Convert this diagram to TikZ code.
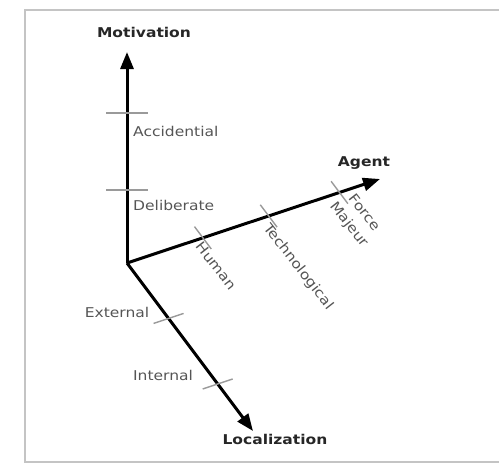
\documentclass[tikz,border=0pt]{standalone}
\usepackage{fontspec}
\setmainfont[FakeStretch=1.15]{DejaVu Sans}
\usetikzlibrary{arrows.meta,calc}

\definecolor{labelgray}{HTML}{555555}
\definecolor{tickgray}{HTML}{9A9A9A}
\definecolor{framegray}{HTML}{C4C4C4}

\tikzset{
  axis/.style={line width=3pt, -{Triangle[length=17pt,width=13pt]}},
  tickmark/.style={draw=tickgray, line width=1.4pt},
  axistitle/.style={font=\fontsize{13.5}{16}\selectfont\bfseries, text=black!85, inner sep=0pt},
  valuelabel/.style={font=\fontsize{13.5}{19}\selectfont, text=labelgray, inner sep=0pt},
  frameline/.style={draw=framegray, line width=2pt},
}

\begin{document}
\begin{tikzpicture}[x=1pt,y=-1pt]
  \useasboundingbox (0,0) rectangle (499,464);

  % frame around the figure
  \draw[frameline] (499,9.5) -- (24.5,9.5) -- (24.5,461.5) -- (499,461.5);

  % origin and axis end points
  \coordinate (O) at (127,263);
  \coordinate (Mtip) at (127,52);
  \coordinate (Atip) at (380,179);
  \coordinate (Ltip) at (253,431);

  % axes
  \draw[axis] (O) -- (Mtip);
  \draw[axis] (O) -- (Atip);
  \draw[axis] (O) -- (Ltip);

  % ticks on the motivation axis
  \draw[tickmark] (106,113) -- (148,113);
  \draw[tickmark] (106,190) -- (148,190);

  % ticks on the agent axis
  \foreach \t in {0.30,0.56,0.84}
    \draw[tickmark] ($(O)!\t!(Atip)$) +(-8.4,-11.2) -- +(8.4,11.2);

  % ticks on the localization axis
  \foreach \t in {0.33,0.72}
    \draw[tickmark] ($(O)!\t!(Ltip)$) +(-15,5) -- +(15,-5);

  % axis titles
  \node[axistitle] (motivation) at (144,32) {Motivation};
  \node[axistitle] (agent) at (364,163) {Agent};
  \node[axistitle] (localization) at (275,439) {Localization};

  % values on the motivation axis
  \node[valuelabel, anchor=west] (accidential) at (133,131) {Accidential};
  \node[valuelabel, anchor=west] (deliberate) at (133,205) {Deliberate};

  % values on the agent axis
  \node[valuelabel, rotate=-52] (human) at (216,266) {Human};
  \node[valuelabel, rotate=-52] (technological) at (298,267) {Technological};
  \node[valuelabel, rotate=-52, align=center] (forcemajeur) at (356,219) {Force\\Majeur};

  % values on the localization axis
  \node[valuelabel] (external) at (117,312) {External};
  \node[valuelabel] (internal) at (163,375) {Internal};
\end{tikzpicture}
\end{document}
